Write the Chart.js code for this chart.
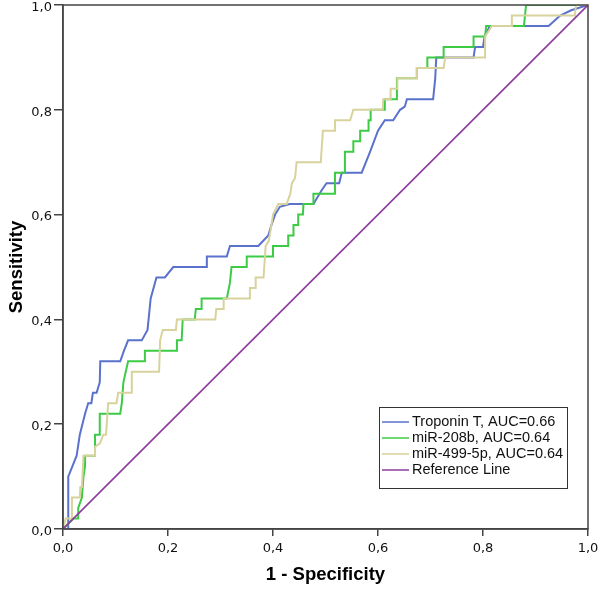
<!DOCTYPE html>
<html><head><meta charset="utf-8">
<script src="https://cdn.jsdelivr.net/npm/chart.js@4"></script>
<style>html,body{margin:0;padding:0;background:#fff}#wrap{width:600px;height:590px}</style>
</head><body><div id="wrap"><canvas id="c" width="600" height="590"></canvas></div>
<script>
const seriesLabels = ['Troponin T, AUC=0.66', 'miR-208b, AUC=0.64', 'miR-499-5p, AUC=0.64', 'Reference Line'];
const seriesColors = ['#5a72cc', '#3dcb46', '#d8d29c', '#8c3c9c'];

const troponinFpr = [0,0.01,0.01,0.026,0.032,0.042,0.048,0.054,0.057,0.064,0.070,0.071,0.109,0.116,0.124,0.150,0.161,0.167,0.178,0.194,0.210,0.274,0.274,0.312,0.318,0.372,0.391,0.397,0.404,0.413,0.432,0.477,0.493,0.502,0.526,0.531,0.569,0.585,0.600,0.613,0.629,0.642,0.651,0.655,0.705,0.709,0.711,0.782,0.785,0.800,0.803,0.813,0.925,0.947,0.968,1];
const troponinTpr = [0,0,0.10,0.14,0.18,0.22,0.24,0.24,0.26,0.26,0.28,0.32,0.32,0.34,0.36,0.36,0.38,0.44,0.48,0.48,0.50,0.50,0.52,0.52,0.54,0.54,0.56,0.58,0.60,0.615,0.62,0.62,0.647,0.66,0.66,0.68,0.68,0.72,0.76,0.78,0.78,0.80,0.806,0.82,0.82,0.86,0.90,0.90,0.92,0.92,0.94,0.96,0.96,0.98,0.99,1];

const mir208bFpr = [0,0.020,0.029,0.029,0.036,0.039,0.042,0.042,0.061,0.061,0.070,0.070,0.109,0.112,0.115,0.124,0.156,0.156,0.217,0.217,0.226,0.228,0.251,0.253,0.264,0.264,0.312,0.318,0.321,0.350,0.350,0.400,0.400,0.429,0.429,0.439,0.439,0.448,0.448,0.457,0.458,0.477,0.477,0.518,0.518,0.537,0.537,0.553,0.553,0.566,0.566,0.582,0.582,0.586,0.586,0.613,0.613,0.636,0.636,0.674,0.674,0.694,0.694,0.725,0.725,0.782,0.782,0.804,0.806,0.878,0.882,1];
const mir208bTpr = [0,0.02,0.02,0.04,0.06,0.10,0.12,0.14,0.14,0.18,0.18,0.22,0.22,0.24,0.28,0.32,0.32,0.34,0.34,0.36,0.36,0.40,0.40,0.42,0.42,0.44,0.44,0.47,0.50,0.50,0.52,0.52,0.54,0.54,0.56,0.56,0.58,0.58,0.60,0.60,0.62,0.62,0.64,0.64,0.68,0.68,0.72,0.72,0.74,0.74,0.76,0.76,0.78,0.78,0.80,0.80,0.82,0.82,0.86,0.86,0.88,0.88,0.90,0.90,0.92,0.92,0.94,0.94,0.96,0.96,1,1];

const mir499Fpr = [0,0.005,0.017,0.017,0.032,0.033,0.036,0.039,0.061,0.061,0.070,0.077,0.082,0.086,0.102,0.105,0.131,0.131,0.183,0.185,0.190,0.215,0.217,0.290,0.292,0.305,0.306,0.355,0.356,0.366,0.367,0.382,0.386,0.392,0.397,0.400,0.410,0.426,0.433,0.436,0.442,0.445,0.491,0.495,0.518,0.518,0.547,0.553,0.609,0.610,0.624,0.624,0.637,0.637,0.674,0.674,0.725,0.728,0.804,0.804,0.817,0.855,0.855,0.975,0.977,1];
const mir499Tpr = [0,0.02,0.02,0.06,0.06,0.08,0.08,0.14,0.14,0.157,0.163,0.18,0.18,0.24,0.24,0.26,0.26,0.30,0.30,0.36,0.38,0.38,0.40,0.40,0.42,0.42,0.44,0.44,0.46,0.46,0.48,0.48,0.54,0.55,0.58,0.60,0.62,0.62,0.64,0.66,0.67,0.70,0.70,0.76,0.76,0.78,0.78,0.80,0.80,0.82,0.82,0.84,0.84,0.86,0.86,0.88,0.88,0.90,0.90,0.94,0.96,0.96,0.98,0.98,1,1];

const referenceFpr = [0, 1];
const referenceTpr = [0, 1];

const tickValues = [0, 0.2, 0.4, 0.6, 0.8, 1.0];
const tickLabels = ['0,0', '0,2', '0,4', '0,6', '0,8', '1,0'];
const xTitle = '1 - Specificity';
const yTitle = 'Sensitivity';

function pts(xs, ys) { return xs.map((x, i) => ({ x: x, y: ys[i] })); }

const allFpr = [troponinFpr, mir208bFpr, mir499Fpr, referenceFpr];
const allTpr = [troponinTpr, mir208bTpr, mir499Tpr, referenceTpr];
const drawOrder = [3, 2, 1, 0];
const widths = [2, 2, 2, 1.6];

const datasets = seriesLabels.map((lab, i) => ({
  label: lab,
  data: pts(allFpr[i], allTpr[i]),
  showLine: true,
  borderColor: seriesColors[i],
  backgroundColor: seriesColors[i],
  borderWidth: widths[i],
  pointRadius: 0,
  tension: 0,
  fill: false,
  order: drawOrder[i]
}));

function axisCfg(titleText, isX) {
  return {
    type: 'linear', min: 0, max: 1,
    afterBuildTicks: s => { s.ticks = tickValues.map(v => ({ value: v })); },
    ticks: {
      callback: (v) => { const k = tickValues.findIndex(t => Math.abs(t - v) < 1e-9); return k >= 0 ? tickLabels[k] : ''; },
      font: { family: 'DejaVu Sans', size: 13 }, color: '#111', padding: isX ? 5 : 2,
      labelOffset: isX ? 0 : 2.5, maxRotation: 0, autoSkip: false
    },
    grid: { drawOnChartArea: false, drawTicks: true, tickLength: isX ? 7 : 9, color: '#444', lineWidth: 1.5 },
    border: { display: true, color: '#444', width: 1.5 },
    title: { display: true, text: titleText, font: { family: 'Liberation Sans', size: 18.5, weight: 'bold' }, color: '#000',
      padding: isX ? { top: 4, bottom: 4 } : { top: 6, bottom: 4 } },
    afterFit: s => {
      if (isX) s.height = 61; else s.width = 63;
      s.paddingTop = 0; s.paddingBottom = 0; s.paddingLeft = 0; s.paddingRight = 0;
    }
  };
}

const frame = {
  id: 'frame',
  afterDatasetsDraw(chart) {
    const { ctx, chartArea: a } = chart;
    ctx.save();
    ctx.strokeStyle = '#444'; ctx.lineWidth = 1.5;
    ctx.strokeRect(a.left, a.top, a.right - a.left, a.bottom - a.top);
    ctx.restore();
  },
  afterDraw(chart) {
    const { ctx, chartArea: a } = chart;
    const bx = a.left + 316, by = a.top + 402, bw = 188, bh = 81;
    ctx.save();
    ctx.fillStyle = '#fff'; ctx.fillRect(bx, by, bw, bh);
    ctx.strokeStyle = '#333'; ctx.lineWidth = 1; ctx.strokeRect(bx + 0.5, by + 0.5, bw, bh);
    ctx.font = '14.5px "Liberation Sans"'; ctx.textBaseline = 'middle'; ctx.fillStyle = '#111';
    seriesLabels.forEach((lab, i) => {
      const y = by + 15 + i * 16;
      ctx.strokeStyle = seriesColors[i]; ctx.lineWidth = 1.5;
      ctx.beginPath(); ctx.moveTo(bx + 3, y); ctx.lineTo(bx + 30, y); ctx.stroke();
      ctx.fillText(lab, bx + 33, y);
    });
    ctx.restore();
  }
};

new Chart(document.getElementById('c'), {
  type: 'scatter',
  data: { datasets: datasets },
  options: {
    responsive: false, animation: false, devicePixelRatio: 1,
    layout: { padding: { top: 5, right: 12, left: 0, bottom: 0 } },
    plugins: { legend: { display: false }, tooltip: { enabled: false } },
    scales: { x: axisCfg(xTitle, true), y: axisCfg(yTitle, false) }
  },
  plugins: [frame]
});
</script>
</body></html>
